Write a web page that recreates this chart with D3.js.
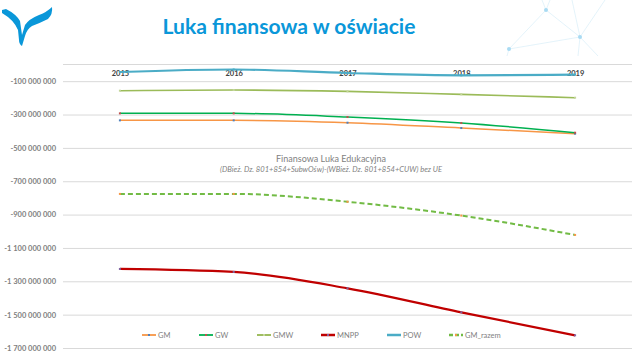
<!DOCTYPE html>
<html><head><meta charset="utf-8">
<script src="https://cdn.jsdelivr.net/npm/d3@7"></script>
<style>
html,body{margin:0;padding:0;background:#fff;}
svg{display:block;}
</style></head>
<body>
<svg id="c" width="640" height="360"></svg>
<script>
// ---- data ----
const years = ["2015","2016","2017","2018","2019"];
const seriesNames = ["GM","GW","GMW","MNPP","POW","GM_razem"];
const GM       = [-335e6, -335e6, -349e6, -381e6, -415e6];
const GW       = [-293e6, -293e6, -315e6, -351e6, -409e6];
const GMW      = [-157e6, -153e6, -161e6, -179e6, -199e6];
const MNPP     = [-1226e6, -1244e6, -1342e6, -1486e6, -1624e6];
const POW      = [-45e6, -30e6, -51e6, -65e6, -61e6];
const GM_razem = [-776e6, -776e6, -823e6, -906e6, -1022e6];
const yTicks = [-1700e6,-1500e6,-1300e6,-1100e6,-900e6,-700e6,-500e6,-300e6,-100e6];
const mainTitle = "Luka finansowa w oświacie";
const chartTitle = "Finansowa Luka Edukacyjna";
const chartSubtitle = "(DBież. Dz. 801+854+SubwOśw)-(WBież. Dz. 801+854+CUW) bez UE";

const seriesData = [GM, GW, GMW, MNPP, POW, GM_razem];
const styles = {
  GM:       {color:"#f79646", width:1.5, dash:null, mk:"#4f81bd"},
  GW:       {color:"#00b050", width:1.5, dash:null, mk:"#c0504d"},
  GMW:      {color:"#9bbb59", width:1.6, dash:null, mk:"#c3d69b"},
  MNPP:     {color:"#c00000", width:2.2, dash:null, mk:"#8064a2"},
  POW:      {color:"#4bacc6", width:2.2, dash:null, mk:"#4bacc6"},
  GM_razem: {color:"#72bb45", width:2, dash:"5,3", mk:"#f79646"}
};

const svg = d3.select("#c");
const font = "Lato, 'Open Sans', sans-serif";

// ---- decoration top right ----
const deco = svg.append("g").attr("stroke","#ddf0f9").attr("stroke-width",0.8);
const A=[546,10], B=[580,37], C=[509,49];
[[A,[542,0]],[A,[550,0]],[A,B],[A,C],[C,B],[C,[507,56]],[B,[572,0]],[B,[605,0]],[B,[578,56]],[B,[598,56]]]
  .forEach(([p,q])=>deco.append("line").attr("x1",p[0]).attr("y1",p[1]).attr("x2",q[0]).attr("y2",q[1]));
[A,B,C].forEach(p=>svg.append("circle").attr("cx",p[0]).attr("cy",p[1]).attr("r",2).attr("fill","#a9dbf3"));

// ---- logo ----
svg.append("path")
  .attr("d","M2,10 L6,9 Q16,14 20,21 L22,35 L25,25 Q29,19 39,15 Q47,12 52,7 Q53,14 48,19 Q40,23 32,26 Q27,29 25,36 L22,46 Q19,44 19,40 L18,30 Q14,20 2,13 Z")
  .attr("fill","#0a97d9");

// ---- main title ----
const tt = svg.append("text").attr("x",289).attr("y",34).attr("text-anchor","middle")
  .attr("font-family","Lato, 'Open Sans', sans-serif").attr("font-weight",700)
  .attr("font-size",20).attr("fill","#0a97d9").text(mainTitle);
const tw = tt.node().getComputedTextLength();
tt.attr("font-size", 20*253/tw);

// ---- scales ----
const x = d3.scalePoint().domain(years).range([63,632]).padding(0.5);
const y = d3.scaleLinear().domain([-1700e6,0]).range([348,64.5]);

const loc = d3.formatLocale({decimal:",",thousands:" ",grouping:[3],currency:["",""],minus:"-"});
const fmt = loc.format(",d");

// gridlines + y labels
const yAxis = d3.axisLeft(y).tickValues(yTicks).tickFormat(fmt).tickSize(-569).tickPadding(7);
const gy = svg.append("g").attr("transform","translate(63,0)").call(yAxis);
gy.select(".domain").remove();
gy.selectAll(".tick line").attr("stroke","#d9d9d9").attr("stroke-width",1);
gy.selectAll(".tick text").attr("font-family",font).attr("font-size",7.5).attr("font-weight",700).attr("fill","#7f7f7f");

// category axis at 0
const xAxis = d3.axisBottom(x).tickSize(0).tickPadding(6);
const gx = svg.append("g").attr("transform",`translate(0,${y(0)})`).call(xAxis);
gx.select(".domain").attr("stroke","#d9d9d9").attr("d","M63,0H632");
gx.selectAll(".tick text").attr("font-family",font).attr("font-size",7.5).attr("font-weight",700).attr("fill","#404040");

// chart title
svg.append("text").attr("x",331).attr("y",162).attr("text-anchor","middle")
  .attr("font-family",font).attr("font-size",9).attr("fill","#7f7f7f").text(chartTitle);
const st = svg.append("text").attr("x",331).attr("y",172).attr("text-anchor","middle")
  .attr("font-family",font).attr("font-style","italic").attr("font-size",7).attr("fill","#7f7f7f").text(chartSubtitle);
st.attr("font-size", 7*222/st.node().getComputedTextLength());

// lines
const line = d3.line().x((d,i)=>x(years[i])).y(d=>y(d)).curve(d3.curveMonotoneX);
seriesNames.forEach((n,k)=>{
  const s = styles[n];
  svg.append("path").datum(seriesData[k]).attr("d",line).attr("fill","none")
    .attr("stroke",s.color).attr("stroke-width",s.width)
    .attr("stroke-dasharray",s.dash).attr("stroke-linejoin","round");
  svg.append("g").selectAll("rect").data(seriesData[k]).join("rect")
    .attr("x",(d,i)=>x(years[i])-1).attr("y",d=>y(d)-1).attr("width",2).attr("height",2)
    .attr("fill",s.mk);
});

// legend
const legX = [142,199,257,321,387,449];
const lg = svg.append("g").attr("transform","translate(0,335)");
seriesNames.forEach((n,k)=>{
  const s = styles[n];
  const g = lg.append("g").attr("transform",`translate(${legX[k]},0)`);
  g.append("line").attr("x1",0).attr("x2",14).attr("y1",0).attr("y2",0)
    .attr("stroke",s.color).attr("stroke-width",s.width+0.3).attr("stroke-dasharray",s.dash ? "4,2" : null);
  g.append("rect").attr("x",6).attr("y",-1).attr("width",2).attr("height",2).attr("fill",s.mk);
  g.append("text").attr("x",16).attr("y",2.6).attr("font-family",font).attr("font-size",7.5)
    .attr("fill","#7f7f7f").text(n);
});
</script>
</body></html>
